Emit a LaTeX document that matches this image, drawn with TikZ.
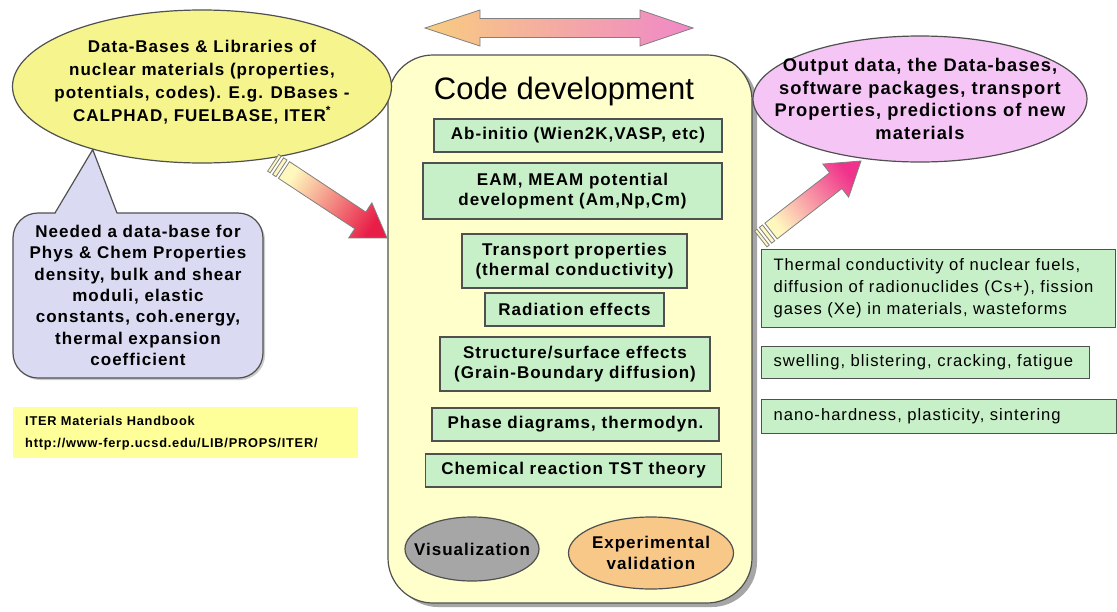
\documentclass[tikz,border=0pt]{standalone}
\usepackage{fontspec}
\setmainfont[LetterSpace=6]{Liberation Sans}
\newfontfamily\titlefont{Liberation Sans}
\usetikzlibrary{calc,shapes.geometric,shadows}

\definecolor{boxgreen}{RGB}{200,240,200}
\definecolor{codeyellow}{RGB}{255,255,204}
\definecolor{dbyellow}{RGB}{246,244,140}
\definecolor{outpink}{RGB}{245,198,245}
\definecolor{needlav}{RGB}{218,218,242}
\definecolor{iteryellow}{RGB}{255,255,153}
\definecolor{visgray}{RGB}{166,166,166}
\definecolor{exporange}{RGB}{248,200,136}
\definecolor{edgegray}{RGB}{80,80,80}
\definecolor{arrowpale}{RGB}{255,248,190}
\definecolor{arrowred}{RGB}{232,30,72}
\definecolor{arrowpink}{RGB}{240,50,140}
\definecolor{topleft}{RGB}{248,204,128}
\definecolor{topright}{RGB}{240,136,200}

\begin{document}
\begin{tikzpicture}[x=1pt, y=-1pt,
    gbox/.style={draw=edgegray, fill=boxgreen, line width=1.2pt, align=center,
                 inner sep=0pt, font=\fontsize{17}{19.5}\selectfont\bfseries},
    rbox/.style={draw=edgegray, fill=boxgreen, line width=1.2pt, align=left,
                 anchor=north west, inner xsep=12pt, inner ysep=0pt,
                 font=\fontsize{16.6}{22}\selectfont},
    oval/.style={ellipse, draw=edgegray, line width=1.2pt, align=center,
                 inner sep=-24pt, font=\fontsize{17}{23}\selectfont\bfseries},
    blk/.style={draw=gray, line width=0.8pt},
]
\useasboundingbox (0,0) rectangle (1117,611);
\fill[white] (0,0) rectangle (1117,611);

% Top double arrow
\shade[blk, left color=topleft, right color=topright]
    (425,28) -- (480,10) -- (480,18.5) -- (640,18.5) -- (640,10) -- (693,28)
    -- (640,46) -- (640,37.5) -- (480,37.5) -- (480,46) -- cycle;

% Code development frame
\node[draw=edgegray, fill=codeyellow, line width=1.2pt, rounded corners=45pt,
      minimum width=364, minimum height=548,
      drop shadow={shadow xshift=5pt, shadow yshift=-4pt, fill=black!35, opacity=1}]
      (code) at (570,329) {};
\node[font=\fontsize{31}{36}\titlefont] (title) at (564,91) {Code development};

\node[gbox, minimum width=288, minimum height=33] (abinit) at (578,135.5)
    {Ab-initio (Wien2K,VASP, etc)};
\node[gbox, minimum width=299, minimum height=56] (eam) at (572.5,191)
    {EAM, MEAM potential\\ development (Am,Np,Cm)};
\node[gbox, minimum width=225, minimum height=54] (transport) at (574.5,261)
    {Transport properties\\ (thermal conductivity)};
\node[gbox, minimum width=179, minimum height=33] (radiation) at (574.5,309.5)
    {Radiation effects};
\node[gbox, minimum width=270, minimum height=54] (structure) at (575,364)
    {Structure/surface effects\\ (Grain-Boundary diffusion)};
\node[gbox, minimum width=287, minimum height=33] (phase) at (575.5,424.5)
    {Phase diagrams, thermodyn.};
\node[gbox, minimum width=296, minimum height=33] (chemical) at (573.5,470.5)
    {Chemical reaction TST theory};

\node[oval, fill=visgray, minimum width=134, minimum height=64] (visual) at (472,549)
    {Visualization};
\node[oval, fill=exporange, minimum width=165, minimum height=72, font=\fontsize{17}{21}\selectfont\bfseries]
    (experiment) at (651,553) {Experimental\\ validation};

% Data-bases and the bubble under it
\node[oval, fill=dbyellow, minimum width=379, minimum height=153] (dbase) at (202,86.5)
    {Data-Bases \& Libraries of\\ nuclear materials (properties,\\
     potentials, codes). E.g. DBases -\\ CALPHAD, FUELBASE, ITER\textsuperscript{*}\\[-11pt]};

\node[draw=edgegray, fill=needlav, line width=1.2pt, rounded corners=25pt,
      minimum width=250, minimum height=165, align=center, inner sep=0pt,
      font=\fontsize{17}{21.3}\selectfont\bfseries,
      drop shadow={shadow xshift=2pt, shadow yshift=-2pt, fill=black!20, opacity=1}]
      (need) at (138,295.5)
    {Needed a data-base for\\ Phys \& Chem Properties\\ density, bulk and shear\\
     moduli, elastic\\ constants, coh.energy,\\ thermal expansion\\ coefficient};
\coordinate (needTip) at (dbase.210);
\fill[needlav] (55,214.5) -- (needTip) -- (117,214.5) -- cycle;
\draw[edgegray, line width=1.2pt] (55,213) -- (needTip) -- (117,213);

\node[fill=iteryellow, anchor=north west, minimum width=345, minimum height=51,
      text width=321, inner xsep=12pt, align=left,
      font=\fontsize{12.8}{22}\selectfont\bfseries] (iter) at (13,407)
    {ITER Materials Handbook\\ http://www-ferp.ucsd.edu/LIB/PROPS/ITER/};

% Output ellipse and right-hand boxes
\node[oval, fill=outpink, minimum width=334, minimum height=126, inner sep=-40pt,
      font=\fontsize{18.3}{22.5}\selectfont\bfseries] (output) at (920,99)
    {Output data, the Data-bases,\\ software packages, transport\\
     Properties, predictions of new\\ materials};

\node[rbox, minimum height=78, text width=330] (fuels) at (761,249)
    {Thermal conductivity of nuclear fuels,\\ diffusion of radionuclides (Cs+), fission\\
     gases (Xe) in materials, wasteforms};
\node[rbox, minimum height=32, text width=304] (swelling) at (761,346)
    {swelling, blistering, cracking, fatigue};
\node[rbox, minimum height=34, text width=331] (hardness) at (761,399)
    {nano-hardness, plasticity, sintering};

% Gradient block arrows with striped tails
\coordinate (inTail) at (284,170);
\coordinate (inTip) at (387,238);
\coordinate (outTail) at (771,231);
\coordinate (outTip) at (861,161);
\foreach \tl/\tp/\col/\ang in {inTail/inTip/arrowred/57, outTail/outTip/arrowpink/128} {
    \coordinate (\tp H) at ($(\tp)!32pt!(\tl)$);
    \coordinate (\tl S1) at ($(\tl)!-3pt!(\tp)$);
    \coordinate (\tl S2) at ($(\tl)!-7pt!(\tp)$);
    \coordinate (\tl S3) at ($(\tl)!-10pt!(\tp)$);
    \coordinate (\tl S4) at ($(\tl)!-13pt!(\tp)$);
    \shade[blk, left color=arrowpale, right color=\col, shading angle=\ang]
        ($(\tl)!10pt!90:(\tp)$) -- ($(\tp H)!10pt!90:(\tp)$) -- ($(\tp H)!21pt!90:(\tp)$)
        -- (\tp) -- ($(\tp H)!21pt!-90:(\tp)$) -- ($(\tp H)!10pt!-90:(\tp)$)
        -- ($(\tl)!10pt!-90:(\tp)$) -- cycle;
    \filldraw[blk, fill=arrowpale] ($(\tl S1)!10pt!90:(\tp)$) -- ($(\tl S2)!10pt!90:(\tp)$)
        -- ($(\tl S2)!10pt!-90:(\tp)$) -- ($(\tl S1)!10pt!-90:(\tp)$) -- cycle;
    \filldraw[blk, fill=arrowpale] ($(\tl S3)!10pt!90:(\tp)$) -- ($(\tl S4)!10pt!90:(\tp)$)
        -- ($(\tl S4)!10pt!-90:(\tp)$) -- ($(\tl S3)!10pt!-90:(\tp)$) -- cycle;
}

\end{tikzpicture}
\end{document}
